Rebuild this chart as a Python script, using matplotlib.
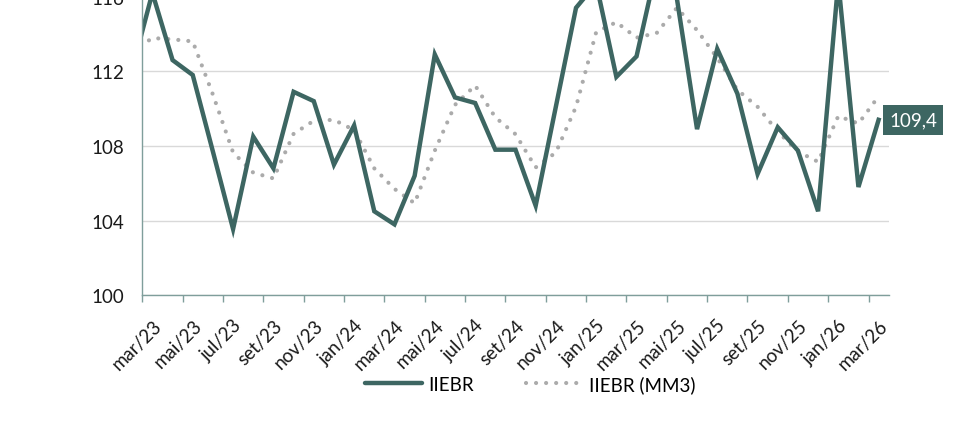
import matplotlib
matplotlib.use("Agg")
import matplotlib.pyplot as plt
from matplotlib.lines import Line2D

months = ['fev/23', 'mar/23', 'abr/23', 'mai/23', 'jun/23', 'jul/23', 'ago/23', 'set/23', 'out/23',
          'nov/23', 'dez/23', 'jan/24', 'fev/24', 'mar/24', 'abr/24', 'mai/24', 'jun/24', 'jul/24',
          'ago/24', 'set/24', 'out/24', 'nov/24', 'dez/24', 'jan/25', 'fev/25', 'mar/25', 'abr/25',
          'mai/25', 'jun/25', 'jul/25', 'ago/25', 'set/25', 'out/25', 'nov/25', 'dez/25', 'jan/26',
          'fev/26', 'mar/26']

iiebr = [112.1, 116.2, 112.6, 111.8, 107.7, 103.55, 108.5, 106.8, 110.9,
         110.4, 107.0, 109.1, 104.5, 103.8, 106.4, 112.9, 110.6, 110.3,
         107.8, 107.8, 104.8, 110.1, 115.4, 116.7, 111.7, 112.8, 117.6,
         115.9, 108.9, 113.2, 110.8, 106.5, 109.0, 107.75, 104.5, 116.8,
         105.8, 109.4]

iiebr_mm3 = [113.06, 113.78, 113.71, 113.6, 110.75, 107.65, 106.57, 106.26, 108.65,
             109.35, 109.4, 108.85, 106.8, 105.7, 104.93, 107.75, 110.2, 111.24,
             109.53, 108.63, 106.85, 107.65, 110.1, 114.1, 114.63, 113.8, 114.05,
             115.4, 114.2, 112.72, 111.0, 110.1, 108.77, 107.7, 107.15, 109.6,
             109.2, 110.66]

tick_labels = ['mar/23', 'mai/23', 'jul/23', 'set/23', 'nov/23', 'jan/24', 'mar/24', 'mai/24',
               'jul/24', 'set/24', 'nov/24', 'jan/25', 'mar/25', 'mai/25', 'jul/25', 'set/25',
               'nov/25', 'jan/26', 'mar/26']

y_ticks = [100, 104, 108, 112, 116]
last_label = '109,4'

TEAL = '#3d6662'
GRAY = '#ababab'
AXIS = '#7f9e9b'
GRID = '#d9d9d9'

plt.rcParams['font.family'] = ['Lato', 'DejaVu Sans']

W, H = 971, 439
fig = plt.figure(figsize=(W / 100, H / 100), dpi=100)
left, right = 142.3, 888.7
bottom_px, top_px = 296.3, -2.4
ax = fig.add_axes([left / W, 1 - bottom_px / H, (right - left) / W, (bottom_px - top_px) / H])

x = list(range(-1, len(months) - 1))  # fev/23 sits at -1 (outside visible range)

ax.plot(x, iiebr_mm3, color=GRAY, lw=3.0, linestyle=(0, (0.01, 2.4)),
        dash_capstyle='round', zorder=3, label='IIEBR (MM3)')
ax.plot(x, iiebr, color=TEAL, lw=3.2, solid_joinstyle='miter', zorder=4, label='IIEBR')

ax.set_xlim(-0.5, len(months) - 1.5)
ax.set_ylim(100, 116)

ax.set_yticks(y_ticks)
ax.set_yticklabels([str(v) for v in y_ticks])
ax.tick_params(axis='y', length=0, pad=13, labelsize=13.5, labelcolor='#1a1a1a')

label_pos = list(range(0, len(months) - 1, 2))
ax.set_xticks(label_pos)
ax.set_xticklabels(tick_labels, rotation=45, ha='right', va='top', rotation_mode='anchor')
ax.tick_params(axis='x', which='major', length=0, pad=15, labelsize=13.5, labelcolor='#1a1a1a')
minor = [p - 0.5 for p in label_pos]
ax.set_xticks(minor, minor=True)
ax.tick_params(axis='x', which='minor', length=5, width=1, color=AXIS, direction='out')

ax.grid(axis='y', color=GRID, lw=1)
ax.set_axisbelow(True)
for s in ['top', 'right']:
    ax.spines[s].set_visible(False)
for s in ['left', 'bottom']:
    ax.spines[s].set_color(AXIS)
    ax.spines[s].set_linewidth(1)
    ax.spines[s].set_zorder(5)

ax.annotate(last_label, xy=(x[-1], iiebr[-1]), xytext=(25, 0), textcoords='offset points',
            ha='center', va='center', color='white', fontsize=13.5,
            bbox=dict(boxstyle='square,pad=0.33', fc=TEAL, ec='none'),
            annotation_clip=False, zorder=6)

handles = [Line2D([], [], color=TEAL, lw=3.2, solid_capstyle='round'),
           Line2D([], [], color=GRAY, lw=3.0, linestyle=(0, (0.01, 2.4)), dash_capstyle='round')]
fig.legend(handles, ['IIEBR', 'IIEBR (MM3)'], loc='center left',
           bbox_to_anchor=(356 / W, 1 - 385 / H), ncol=2, frameon=False, fontsize=13.5,
           handlelength=3.0, handletextpad=0.35, columnspacing=2.8, borderpad=0)

fig.savefig('out.png', dpi=100)
